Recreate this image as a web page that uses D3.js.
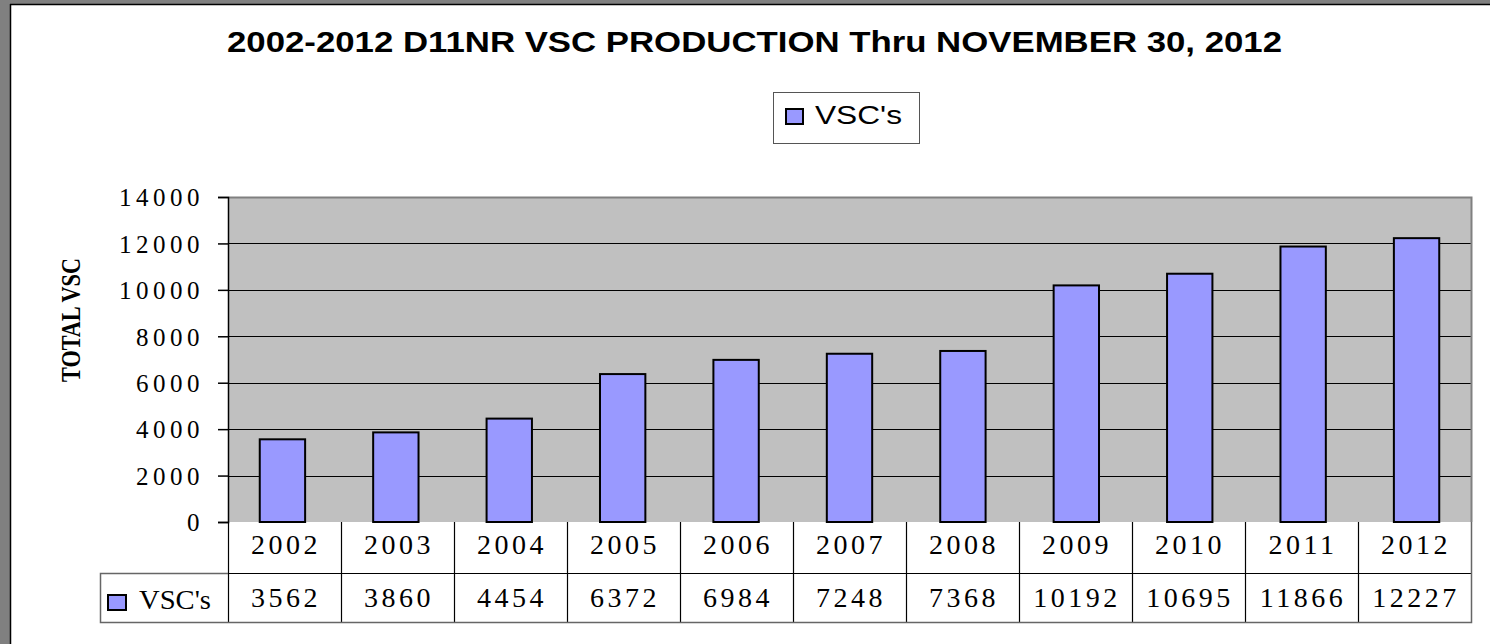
<!DOCTYPE html>
<html>
<head>
<meta charset="utf-8">
<script src="https://cdn.jsdelivr.net/npm/d3@7"></script>
<style>
  html, body { margin: 0; padding: 0; background: #fff; }
  svg { display: block; }
</style>
</head>
<body>
<svg id="chart" width="1490" height="644"></svg>
<script>
const categories = ["2002","2003","2004","2005","2006","2007","2008","2009","2010","2011","2012"];
const seriesName = "VSC's";
const values = [3562, 3860, 4454, 6372, 6984, 7248, 7368, 10192, 10695, 11866, 12227];
const yTicks = [0, 2000, 4000, 6000, 8000, 10000, 12000, 14000];
const titleText = "2002-2012 D11NR VSC PRODUCTION Thru NOVEMBER 30, 2012";
const yAxisTitle = "TOTAL VSC";

const svg = d3.select("#chart");
const W = 1490, H = 644;
const plot = {left: 228, right: 1471, top: 197, bottom: 522};
const rowH = [51, 49];
const barColor = "#9999FF";

// frame
svg.append("rect").attr("x", 0).attr("y", 0).attr("width", W).attr("height", H).attr("fill", "#fff");
svg.append("rect").attr("x", 0).attr("y", 0).attr("width", 10).attr("height", H).attr("fill", "#808080");
svg.append("rect").attr("x", 0).attr("y", 0).attr("width", W).attr("height", 4).attr("fill", "#808080");
svg.append("line").attr("x1", 10.5).attr("x2", 10.5).attr("y1", 4).attr("y2", H).attr("stroke", "#000").attr("stroke-width", 1.5);
svg.append("line").attr("x1", 10).attr("x2", W).attr("y1", 4.5).attr("y2", 4.5).attr("stroke", "#000").attr("stroke-width", 1.5);

// title
svg.append("text")
  .attr("x", 227).attr("y", 52)
  .attr("textLength", 1055).attr("lengthAdjust", "spacingAndGlyphs")
  .attr("font-family", "Liberation Sans, Arial, sans-serif")
  .attr("font-weight", "bold").attr("font-size", 30)
  .text(titleText);

// legend
const lg = svg.append("g");
lg.append("rect").attr("x", 773.5).attr("y", 92.5).attr("width", 146).attr("height", 51)
  .attr("fill", "#fff").attr("stroke", "#555").attr("stroke-width", 1);
lg.append("rect").attr("x", 786).attr("y", 109).attr("width", 17).attr("height", 15)
  .attr("fill", barColor).attr("stroke", "#000").attr("stroke-width", 2);
lg.append("text").attr("x", 815).attr("y", 124)
  .attr("textLength", 87).attr("lengthAdjust", "spacingAndGlyphs")
  .attr("font-family", "Liberation Sans, Arial, sans-serif").attr("font-size", 26)
  .text(seriesName);

// scales
const x = d3.scaleBand().domain(categories).range([plot.left, plot.right]).paddingInner(0.6).paddingOuter(0.28);
const xCell = d3.scaleBand().domain(categories).range([plot.left, plot.right]).padding(0);
const y = d3.scaleLinear().domain([0, 14000]).range([plot.bottom, plot.top]);

// plot area
svg.append("rect").attr("x", plot.left).attr("y", plot.top)
  .attr("width", plot.right - plot.left).attr("height", plot.bottom - plot.top)
  .attr("fill", "#C0C0C0");

// gridlines
svg.append("g").selectAll("line").data(yTicks.filter(d => d > 0 && d < 14000)).join("line")
  .attr("x1", plot.left).attr("x2", plot.right)
  .attr("y1", d => Math.round(y(d)) + 0.5).attr("y2", d => Math.round(y(d)) + 0.5)
  .attr("stroke", "#000").attr("stroke-width", 1);

// plot border top/right gray
svg.append("path")
  .attr("d", `M${plot.left},${plot.top + 0.5}H${plot.right + 0.5}V${plot.bottom}`)
  .attr("fill", "none").attr("stroke", "#808080").attr("stroke-width", 2);

// bars
svg.append("g").selectAll("rect").data(values).join("rect")
  .attr("x", (d, i) => x(categories[i]))
  .attr("width", x.bandwidth())
  .attr("y", d => y(d))
  .attr("height", d => y(0) - y(d))
  .attr("fill", barColor).attr("stroke", "#000").attr("stroke-width", 2);

// y axis
const yAxis = d3.axisLeft(y).tickValues(yTicks).tickSize(10).tickPadding(14).tickFormat(d3.format("d"));
const ya = svg.append("g").attr("transform", `translate(${plot.left},0)`).call(yAxis);
ya.select(".domain").attr("stroke", "#000").attr("stroke-width", 1.5);
ya.selectAll(".tick line").attr("stroke", "#000").attr("stroke-width", 1.5);
ya.selectAll(".tick text")
  .attr("font-family", "Liberation Serif, Times New Roman, serif")
  .attr("font-size", 25).attr("fill", "#000")
  .attr("letter-spacing", 4.5).attr("dy", "0.35em");

// y axis title
svg.append("text")
  .attr("transform", "translate(80,320) rotate(-90)")
  .attr("text-anchor", "middle")
  .attr("textLength", 124).attr("lengthAdjust", "spacingAndGlyphs")
  .attr("font-family", "Liberation Serif, Times New Roman, serif")
  .attr("font-weight", "bold").attr("font-size", 28)
  .text(yAxisTitle);

// data table
const t = svg.append("g");
const r1 = plot.bottom, r2 = plot.bottom + rowH[0], r3 = plot.bottom + rowH[0] + rowH[1];
t.selectAll("line.v").data(categories.slice(1)).join("line")
  .attr("x1", d => Math.round(xCell(d)) + 0.5).attr("x2", d => Math.round(xCell(d)) + 0.5)
  .attr("y1", r1).attr("y2", r3).attr("stroke", "#000").attr("stroke-width", 1.2);
t.append("line").attr("x1", plot.left + 0.5).attr("x2", plot.left + 0.5).attr("y1", r1).attr("y2", r3)
  .attr("stroke", "#000").attr("stroke-width", 1.2);
t.append("line").attr("x1", plot.left).attr("x2", plot.right).attr("y1", r2 + 0.5).attr("y2", r2 + 0.5)
  .attr("stroke", "#000").attr("stroke-width", 1.2);
t.append("path")
  .attr("d", `M${plot.left},${r2 + 0.5}H100.5V${r3 + 0.5}H${plot.right + 0.5}V${r1}`)
  .attr("fill", "none").attr("stroke", "#666").attr("stroke-width", 1.5);

// category labels
t.selectAll("text.cat").data(categories).join("text")
  .attr("class", "cat")
  .attr("x", d => xCell(d) + xCell.bandwidth() / 2 + 1.5)
  .attr("y", r1 + 32)
  .attr("text-anchor", "middle")
  .attr("font-family", "Liberation Serif, Times New Roman, serif")
  .attr("font-size", 28).attr("letter-spacing", 3.5)
  .text(d => d);

// values
t.selectAll("text.val").data(values).join("text")
  .attr("class", "val")
  .attr("x", (d, i) => xCell(categories[i]) + xCell.bandwidth() / 2 + 1.5)
  .attr("y", r2 + 34)
  .attr("text-anchor", "middle")
  .attr("font-family", "Liberation Serif, Times New Roman, serif")
  .attr("font-size", 28).attr("letter-spacing", 3.5)
  .text(d => d);

// legend key in table
t.append("rect").attr("x", 108).attr("y", 595).attr("width", 18).attr("height", 15)
  .attr("fill", barColor).attr("stroke", "#000").attr("stroke-width", 2);
t.append("text").attr("x", 139).attr("y", 609)
  .attr("textLength", 72).attr("lengthAdjust", "spacingAndGlyphs")
  .attr("font-family", "Liberation Serif, Times New Roman, serif")
  .attr("font-size", 28)
  .text(seriesName);
</script>
</body>
</html>
